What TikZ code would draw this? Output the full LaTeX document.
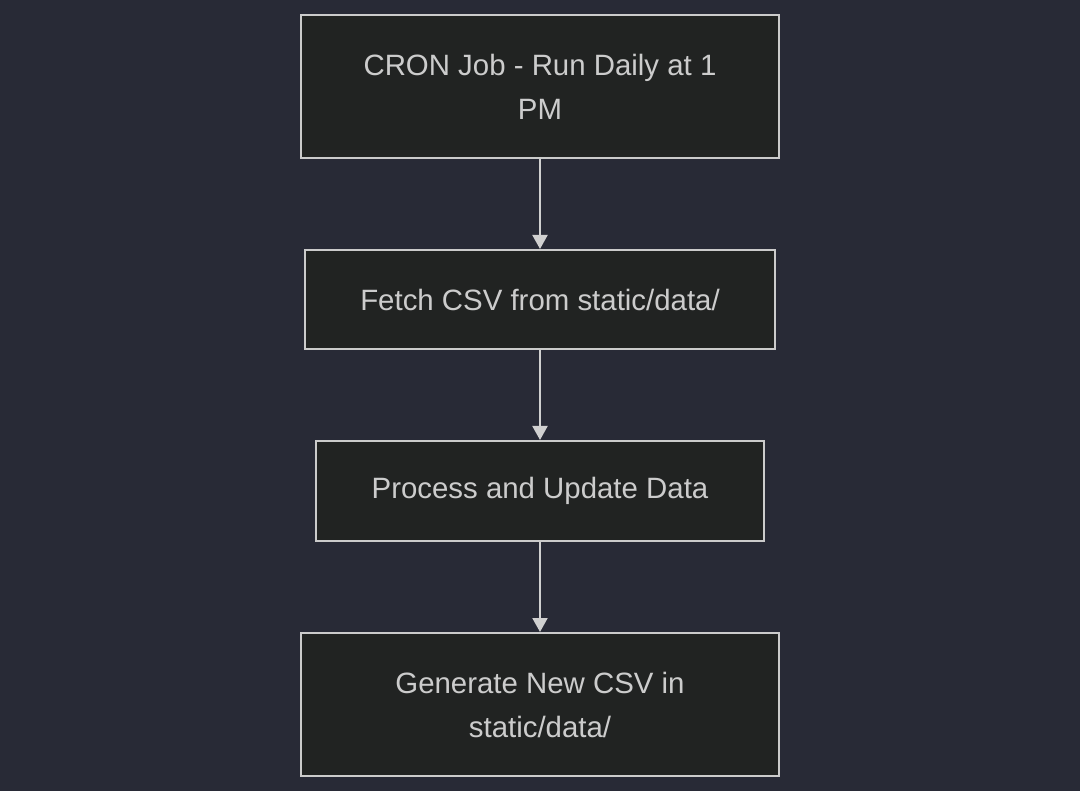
\documentclass[tikz,border=0pt]{standalone}
\usepackage{fontspec}
\setmainfont{Liberation Sans}
\usetikzlibrary{arrows.meta}
\definecolor{bgc}{HTML}{282A36}
\definecolor{boxfill}{HTML}{212322}
\definecolor{boxline}{HTML}{CBCBCB}
\definecolor{txt}{HTML}{CCCCCC}
\definecolor{arr}{HTML}{D0D0D0}
\begin{document}
\begin{tikzpicture}[x=1pt,y=-1pt,
  stepbox/.style={draw=boxline, fill=boxfill, line width=2pt, text=txt, align=center,
    inner sep=0pt, font=\fontsize{29.4}{44}\selectfont},
  conn/.style={draw=arr, line width=2pt, -{Triangle[length=14pt,width=15pt]}}]
\fill[bgc] (0,0) rectangle (1080,791);
\useasboundingbox (0,0) rectangle (1080,791);
\node[stepbox, minimum width=478pt, minimum height=143pt] (a) at (540,86.5) {CRON Job - Run Daily at 1\\PM};
\node[stepbox, minimum width=470pt, minimum height=99pt] (b) at (540,299.5) {Fetch CSV from static/data/};
\node[stepbox, minimum width=448pt, minimum height=100pt] (c) at (540,491) {Process and Update Data};
\node[stepbox, minimum width=478pt, minimum height=143pt] (d) at (540,704.5) {Generate New CSV in\\static/data/};
\draw[conn] (a) -- (b);
\draw[conn] (b) -- (c);
\draw[conn] (c) -- (d);
\end{tikzpicture}
\end{document}
